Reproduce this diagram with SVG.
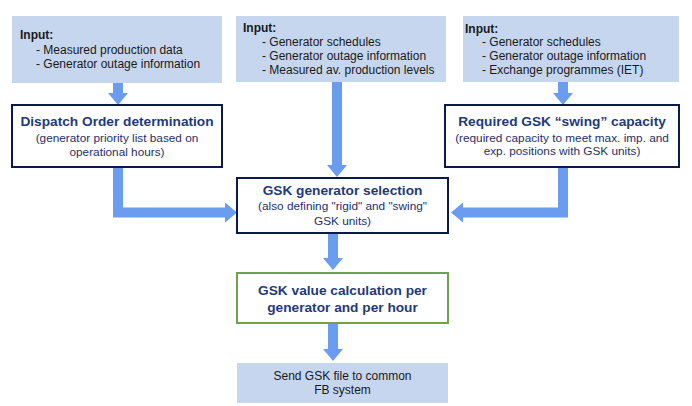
<svg xmlns="http://www.w3.org/2000/svg" width="692" height="406" viewBox="0 0 692 406">
<style>
.inp{fill:#c6d6ee;stroke:none}
.box{fill:#ffffff;stroke:#0c1a4b;stroke-width:2}
.gbox{fill:#ffffff;stroke:#6fa24a;stroke-width:2}
.t{font-family:"Liberation Sans",Arial,sans-serif;font-size:12px;fill:#1a1a1a}
.h{font-family:"Liberation Sans",Arial,sans-serif;font-size:12px;font-weight:bold;fill:#1a1a1a}
.ti{font-family:"Liberation Sans",Arial,sans-serif;font-size:13.7px;font-weight:bold;fill:#1f3a78;text-anchor:middle}
.st{font-family:"Liberation Sans",Arial,sans-serif;font-size:11.8px;fill:#1f2f66;text-anchor:middle}
.c{fill:none;stroke:#6a9cf0;stroke-width:10;stroke-linejoin:miter;marker-end:url(#ah)}
</style>
<defs>
<marker id="ah" markerUnits="userSpaceOnUse" markerWidth="12" markerHeight="20" viewBox="0 0 12 20" refX="0" refY="10" orient="auto">
<path d="M0,0 L12,10 L0,20 z" fill="#6a9cf0"/>
</marker>
</defs>
<rect width="692" height="406" fill="#ffffff"/>
<g id="connectors">
<path class="c" d="M118,83 V93"/>
<path class="c" d="M337,82 V165"/>
<path class="c" d="M563,82 V93"/>
<path class="c" d="M118,167 V212.5 H225"/>
<path class="c" d="M563,167 V212.5 H463"/>
<path class="c" d="M333,233 V258"/>
<path class="c" d="M333,323 V349"/>
</g>
<g id="input1">
<rect class="inp" x="12" y="16" width="210" height="67"/>
<text class="h" x="20" y="39">Input:</text>
<text class="t" x="36" y="54">- Measured production data</text>
<text class="t" x="36" y="68">- Generator outage information</text>
</g>
<g id="input2">
<rect class="inp" x="236" y="16" width="210" height="66"/>
<text class="h" x="243" y="32">Input:</text>
<text class="t" x="262" y="46">- Generator schedules</text>
<text class="t" x="262" y="60">- Generator outage information</text>
<text class="t" x="262" y="74">- Measured av. production levels</text>
</g>
<g id="input3">
<rect class="inp" x="463" y="16" width="216" height="66"/>
<text class="h" x="465" y="33">Input:</text>
<text class="t" x="482" y="46">- Generator schedules</text>
<text class="t" x="482" y="60">- Generator outage information</text>
<text class="t" x="482" y="74">- Exchange programmes (IET)</text>
</g>
<g id="dispatch">
<rect class="box" x="12" y="105" width="210" height="62"/>
<text class="ti" x="117" y="126">Dispatch Order determination</text>
<text class="st" x="117" y="142">(generator priority list based on</text>
<text class="st" x="117" y="156">operational hours)</text>
</g>
<g id="swing">
<rect class="box" x="445" y="105" width="234" height="62"/>
<text class="ti" x="562" y="126">Required GSK “swing” capacity</text>
<text class="st" x="562" y="142">(required capacity to meet max. imp. and</text>
<text class="st" x="562" y="155">exp. positions with GSK units)</text>
</g>
<g id="selection">
<rect class="box" x="237" y="178" width="211" height="55"/>
<text class="ti" x="342.5" y="195">GSK generator selection</text>
<text class="st" x="342.5" y="210">(also defining "rigid" and "swing"</text>
<text class="st" x="342.5" y="225">GSK units)</text>
</g>
<g id="value">
<rect class="gbox" x="237" y="273" width="211" height="50"/>
<text class="ti" x="342.5" y="295">GSK value calculation per</text>
<text class="ti" x="342.5" y="312">generator and per hour</text>
</g>
<g id="send">
<rect class="inp" x="237" y="363" width="211" height="40"/>
<text class="t" x="342.5" y="380" text-anchor="middle">Send GSK file to common</text>
<text class="t" x="342.5" y="394" text-anchor="middle">FB system</text>
</g>
</svg>
